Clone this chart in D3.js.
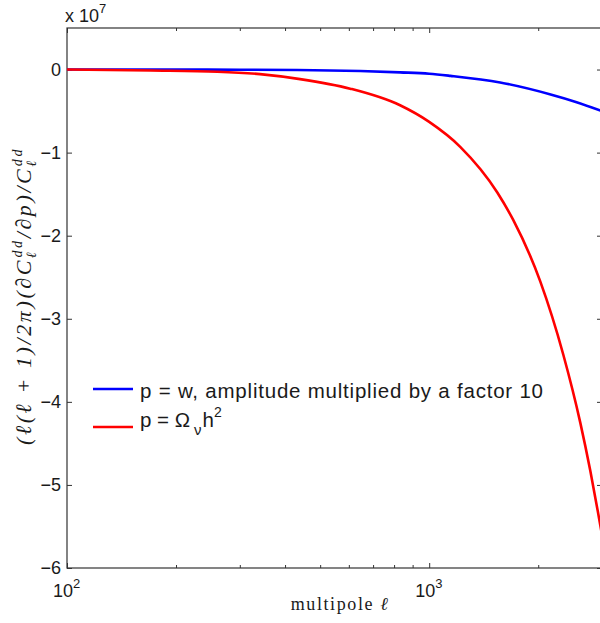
<!DOCTYPE html>
<html>
<head>
<meta charset="utf-8">
<script src="https://cdn.jsdelivr.net/npm/d3@7"></script>
<style>
    body { margin: 0; background: #fff; }
    text { font-family: "Liberation Sans", Arial, Helvetica, sans-serif; fill: #1a1a1a; }
    .serif { font-family: "Liberation Serif", "DejaVu Serif", serif; }
</style>
</head>
<body>
<div id="chart"></div>
<script>
(function () {
    'use strict';

    // p = w (amplitude x10), values in units of 1e7
    const blueEll = [100, 200, 300, 432, 645, 831, 1000, 1145, 1570, 2164, 2540, 3000];
    const blueVal = [0, -0.001, -0.002, -0.005, -0.018, -0.034, -0.05, -0.076, -0.156, -0.30, -0.39, -0.50];

    // p = Omega_nu h^2
    const redEll = [100, 170, 260, 341, 440, 605, 831, 1000, 1218, 1542, 1706, 2026, 2345, 2613, 2785, 2930, 3000];
    const redVal = [0, -0.012, -0.026, -0.055, -0.115, -0.23, -0.43, -0.63, -0.93, -1.48, -1.81, -2.55, -3.43, -4.25, -4.83, -5.35, -5.60];

    const yTicks = [0, -1, -2, -3, -4, -5, -6];
    const xMajor = [100, 1000];
    const xMajorExp = ["2", "3"];
    const xMinor = [200, 300, 400, 500, 600, 700, 800, 900, 2000, 3000];
    const legendNames = ["p = w, amplitude multiplied by a factor 10", "p = Ω"];
    const colors = ["#0000ff", "#ff0000"];

    const W = 600, H = 623;
    const m = { left: 67, top: 28, right: 602, bottom: 568 };

    const svg = d3.select("#chart").append("svg")
        .attr("width", W)
        .attr("height", H)
        .style("display", "block");

    const x = d3.scaleLog().domain([100, 3000]).range([m.left, m.right]);
    const y = d3.scaleLinear().domain([-6, 0.5]).range([m.bottom, m.top]);

    svg.append("defs").append("clipPath").attr("id", "plotclip")
        .append("rect")
        .attr("x", m.left).attr("y", m.top)
        .attr("width", m.right - m.left).attr("height", m.bottom - m.top);

    // ticks (inward, matlab style)
    const tickCol = "#333";
    function styleAxis(g) {
        g.select(".domain").remove();
        g.selectAll("line").attr("stroke", tickCol);
        g.selectAll("text").remove();
    }
    svg.append("g").attr("transform", `translate(0,${m.bottom})`)
        .call(d3.axisBottom(x).tickValues(xMajor).tickSize(-5).tickFormat(""))
        .call(styleAxis);
    svg.append("g").attr("transform", `translate(0,${m.bottom})`)
        .call(d3.axisBottom(x).tickValues(xMinor).tickSize(-3).tickFormat(""))
        .call(styleAxis);
    svg.append("g").attr("transform", `translate(0,${m.top})`)
        .call(d3.axisTop(x).tickValues(xMajor).tickSize(-5).tickFormat(""))
        .call(styleAxis);
    svg.append("g").attr("transform", `translate(0,${m.top})`)
        .call(d3.axisTop(x).tickValues(xMinor).tickSize(-3).tickFormat(""))
        .call(styleAxis);
    svg.append("g").attr("transform", `translate(${m.left},0)`)
        .call(d3.axisLeft(y).tickValues(yTicks).tickSize(-5).tickFormat(""))
        .call(styleAxis);
    svg.append("g").attr("transform", `translate(${m.right},0)`)
        .call(d3.axisRight(y).tickValues(yTicks).tickSize(-5).tickFormat(""))
        .call(styleAxis);

    // frame
    svg.append("rect")
        .attr("x", m.left).attr("y", m.top)
        .attr("width", m.right - m.left).attr("height", m.bottom - m.top)
        .attr("fill", "none")
        .attr("stroke", tickCol)
        .attr("stroke-width", 1.2);

    // y tick labels
    svg.append("g").selectAll("text")
        .data(yTicks)
        .enter().append("text")
        .attr("x", m.left - 6)
        .attr("y", d => y(d))
        .attr("dy", "0.36em")
        .attr("text-anchor", "end")
        .style("font-size", "18px")
        .text(d => d === 0 ? "0" : "\u2212" + Math.abs(d));

    // x tick labels 10^n
    const xl = svg.append("g").selectAll("text")
        .data(xMajor)
        .enter().append("text")
        .attr("x", d => x(d) - 14)
        .attr("y", 597)
        .style("font-size", "18px");
    xl.append("tspan").text("10");
    xl.append("tspan").attr("dy", -9).style("font-size", "13px").text((d, i) => xMajorExp[i]);

    // exponent marker
    const ex = svg.append("text").attr("x", 65).attr("y", 22).style("font-size", "18px");
    ex.append("tspan").text("x 10");
    ex.append("tspan").attr("dy", -9).style("font-size", "13px").text("7");

    // lines
    const line = d3.line()
        .x(d => x(d[0]))
        .y(d => y(d[1]))
        .curve(d3.curveMonotoneX);

    const series = [
        blueEll.map((e, i) => [e, blueVal[i]]),
        redEll.map((e, i) => [e, redVal[i]])
    ];

    svg.append("g").attr("clip-path", "url(#plotclip)")
        .selectAll("path")
        .data(series)
        .enter().append("path")
        .attr("d", line)
        .attr("fill", "none")
        .attr("stroke", (d, i) => colors[i])
        .attr("stroke-width", 2.6);

    // legend
    const lgY = [389, 427];
    svg.append("g").selectAll("line")
        .data(colors)
        .enter().append("line")
        .attr("x1", 93).attr("x2", 133)
        .attr("y1", (d, i) => lgY[i]).attr("y2", (d, i) => lgY[i])
        .attr("stroke", d => d)
        .attr("stroke-width", 2.6);

    svg.append("text")
        .attr("x", 140).attr("y", 398)
        .attr("textLength", 403)
        .attr("lengthAdjust", "spacing")
        .style("font-size", "20.5px")
        .text(legendNames[0]);

    const lg2 = svg.append("text")
        .attr("x", 140).attr("y", 427)
        .style("font-size", "20.5px");
    lg2.append("tspan").text(legendNames[1]);
    lg2.append("tspan").attr("dx", 4).attr("dy", 8).style("font-size", "15px").text("ν");
    lg2.append("tspan").attr("dx", 1).attr("dy", -8).text("h");
    lg2.append("tspan").attr("dy", -10).style("font-size", "14px").text("2");

    // x axis label
    svg.append("text")
        .attr("class", "serif")
        .attr("x", 340).attr("y", 610)
        .attr("text-anchor", "middle")
        .style("font-size", "18px")
        .style("letter-spacing", "1.6px")
        .html("multipole <tspan font-style='italic'>ℓ</tspan>");

    // y axis label
    const yl = svg.append("text")
        .attr("class", "serif")
        .attr("transform", "translate(31,296) rotate(-90)")
        .attr("text-anchor", "middle")
        .style("font-size", "22px")
        .style("font-style", "italic")
        .style("letter-spacing", "2.6px");
    yl.append("tspan").text("(ℓ(ℓ + 1)/2π)(∂C");
    yl.append("tspan").attr("dy", 5).style("font-size", "14px").text("ℓ");
    yl.append("tspan").attr("dx", -8).attr("dy", -14).style("font-size", "14px").text("dd");
    yl.append("tspan").attr("dy", 9).text("/∂p)/C");
    yl.append("tspan").attr("dy", 5).style("font-size", "14px").text("ℓ");
    yl.append("tspan").attr("dx", -8).attr("dy", -14).style("font-size", "14px").text("dd");
})();
</script>
</body>
</html>
